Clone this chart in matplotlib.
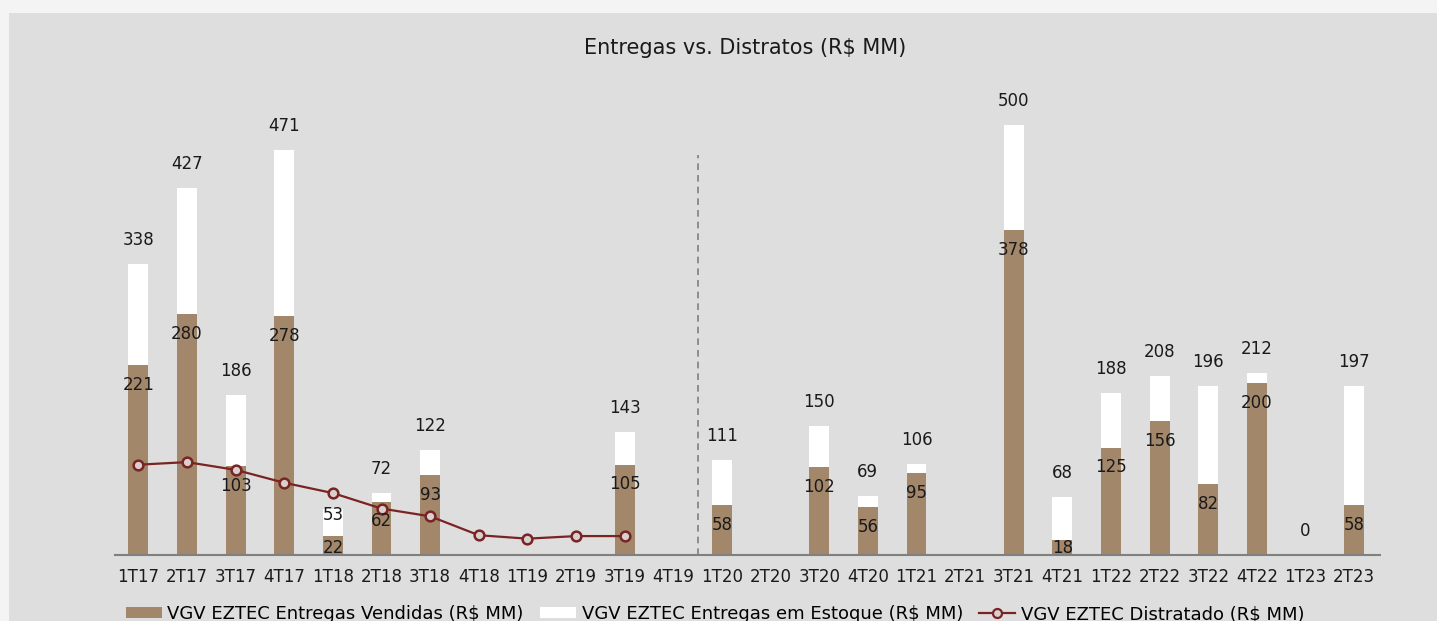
import numpy as np
import matplotlib
matplotlib.use("Agg")
import matplotlib.pyplot as plt
from matplotlib.patches import Rectangle
from matplotlib.lines import Line2D
from matplotlib.patches import Patch

plt.rcParams['font.family'] = ['DejaVu Sans']

# Quarters
quarters = ['1T17', '2T17', '3T17', '4T17', '1T18', '2T18', '3T18', '4T18', '1T19',
            '2T19', '3T19', '4T19', '1T20', '2T20', '3T20', '4T20', '1T21', '2T21',
            '3T21', '4T21', '1T22', '2T22', '3T22', '4T22', '1T23', '2T23']

# VGV delivered - sold part (R$ MM)
vendidas = [221, 280, 103, 278, 22, 62, 93, 0, 0, 0, 105, 0, 58, 0, 102, 56, 95, 0,
            378, 18, 125, 156, 82, 200, 0, 58]
# total delivered (None = no label)
totais = [338, 427, 186, 471, 53, 72, 122, None, None, None, 143, None, 111, None, 150,
          69, 106, None, 500, 68, 188, 208, 196, 212, 0, 197]
# distratos line (only 1T17..3T19)
distrato = [105, 108, 99, 84, 72, 54, 45, 23, 19, 22, 22]

BROWN = '#a3876a'
LINE = '#7a2323'
BG = '#dedede'
FS = 12

fig = plt.figure(figsize=(14.37, 6.21), dpi=100)
fig.patch.set_facecolor('#f4f4f4')
fig.patches.append(Rectangle((9 / 1437, 0), 1 - 9 / 1437, 1 - 13 / 621,
                             transform=fig.transFigure, facecolor=BG,
                             edgecolor='none', zorder=-5))

ax = fig.add_axes([115 / 1437, 66 / 621, 1265 / 1437, 0.7755])
ax.set_facecolor('none')
ax.set_zorder(2)

x = np.arange(len(quarters))
tot = np.array([t if t is not None else 0 for t in totais], dtype=float)
vend = np.array(vendidas, dtype=float)
estoque = np.clip(tot - vend, 0, None)

w = 0.41
ax.bar(x, vend, w, color=BROWN, zorder=2)
ax.bar(x, estoque, w, bottom=vend, color='white', zorder=2)

xd = np.arange(len(distrato))
ax.plot(xd, distrato, color=LINE, lw=1.6, marker='o', ms=7,
        markerfacecolor='#d8d0d0', markeredgecolor=LINE, markeredgewidth=1.8, zorder=4)

ax.axvline(11.5, ymin=0, ymax=465 / 560, color='#808080', lw=1.2,
           ls=(0, (4, 3)), zorder=1)

ax.set_xlim(-0.48, 25.53)
ax.set_ylim(0, 560)

# labels
for i, t in enumerate(totais):
    if t is None:
        continue
    off = -6 if quarters[i] == '1T18' else 24
    ax.annotate(str(t), (i, t), xytext=(0, off), textcoords='offset pixels',
                ha='center', va='center', fontsize=FS, color='#1a1a1a', zorder=5)

for i, v in enumerate(vendidas):
    if v == 0:
        continue
    yl = max(v - 23, 8)
    ax.text(i, yl, str(v), ha='center', va='center', fontsize=FS,
            color='#1a1a1a', zorder=5)

ax.set_xticks(x)
ax.set_xticklabels(quarters, fontsize=FS, color='#1a1a1a')
ax.tick_params(axis='x', length=0, pad=9)
ax.set_yticks([])
for s in ['top', 'right', 'left']:
    ax.spines[s].set_visible(False)
ax.spines['bottom'].set_color('#808080')
ax.spines['bottom'].set_linewidth(1.5)

fig.text(745 / 1437, 1 - 48 / 621, 'Entregas vs. Distratos (R$ MM)', ha='center',
         va='center', fontsize=15, color='#1a1a1a')

handles = [Patch(facecolor=BROWN, edgecolor='none'),
           Patch(facecolor='white', edgecolor='none'),
           Line2D([0], [0], color=LINE, lw=1.6, marker='o', ms=6.5,
                  markerfacecolor='#d8d0d0', markeredgecolor=LINE, markeredgewidth=1.6)]
labels = ['VGV EZTEC Entregas Vendidas (R$ MM)', 'VGV EZTEC Entregas em Estoque (R$ MM)',
          'VGV EZTEC Distratado (R$ MM)']
fig.legend(handles, labels, loc='center', bbox_to_anchor=(715 / 1437, 1 - 614 / 621),
           ncol=3, frameon=False, fontsize=13, handlelength=2.0, handleheight=0.6,
           columnspacing=0.9, handletextpad=0.3)

fig.savefig('out.png', dpi=100, facecolor=fig.get_facecolor())
